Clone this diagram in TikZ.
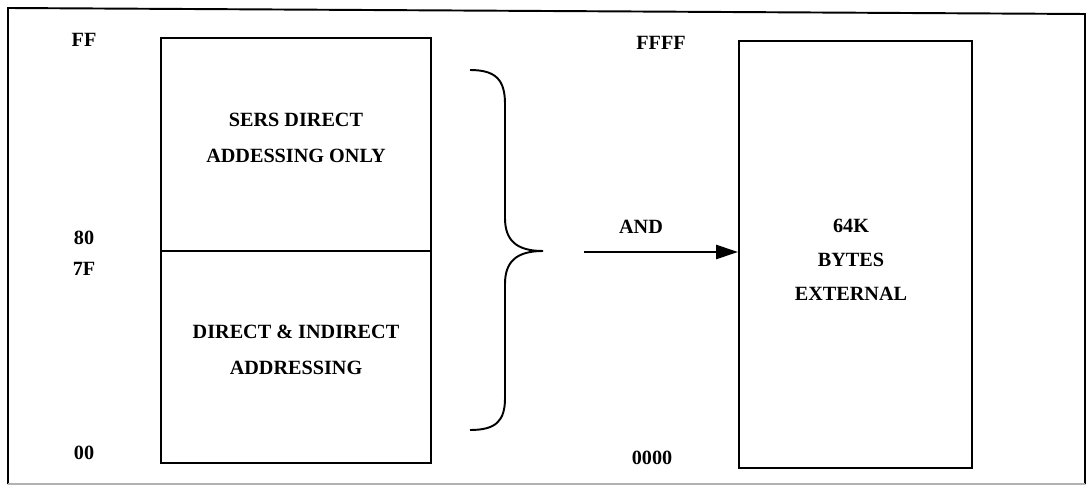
\documentclass[tikz,border=0pt]{standalone}
\usepackage{fontspec}
\setmainfont{Liberation Serif}
\usetikzlibrary{arrows.meta,fit,positioning}

\begin{document}
\begin{tikzpicture}
  [x=0.02cm,y=-0.02cm,line width=1.1pt,
   every node/.style={font=\bfseries\fontsize{11.5}{20.5}\selectfont,align=center,inner sep=0pt},
   box/.style={draw,inner sep=0pt},
   tip/.style={line width=1.4pt,-{Triangle[length=4.4mm,width=2.8mm]}}]
  \useasboundingbox (0,0) rectangle (1091,489);
  % frame
  \draw (8,484) -- (8,8) -- (1085,14) -- (1085,484);
  \draw[gray!60] (8,484) -- (1085,484);
  % internal ram
  \node[box,fit={(161,38) (431,251)}] (n0) {SERS DIRECT\\ADDESSING ONLY};
  \node[box,fit={(161,251) (431,463)}] (n1) {DIRECT \& INDIRECT\\ADDRESSING};
  \node (n3) at (84,40) {FF};
  \node (n4) at (84,238) {80};
  \node (n5) [below=0.31cm of n4] {7F};
  \node (n6) at (84,453) {00};
  % external ram
  \node[box,fit={(739,41) (972,468)}] (n2) {};
  \node[font=\bfseries\fontsize{11.5}{19.5}\selectfont] (n10) at (851,260) {64K\\BYTES\\EXTERNAL};
  \node (n7) at (661,43) {FFFF};
  \node (n8) at (652,458) {0000};
  % brace and arrow
  \draw (470,70) .. controls (496,70) and (505,80) .. (505,104) -- (505,218)
        .. controls (505,240) and (516,251) .. (543,251)
        .. controls (516,251) and (505,262) .. (505,284) -- (505,398)
        .. controls (505,421) and (496,430) .. (470,430);
  \coordinate (c0) at (584,252);
  \node (n9) at (641,227) {AND};
  \draw[tip] (c0) -- (n2.west |- c0);
\end{tikzpicture}
\end{document}
